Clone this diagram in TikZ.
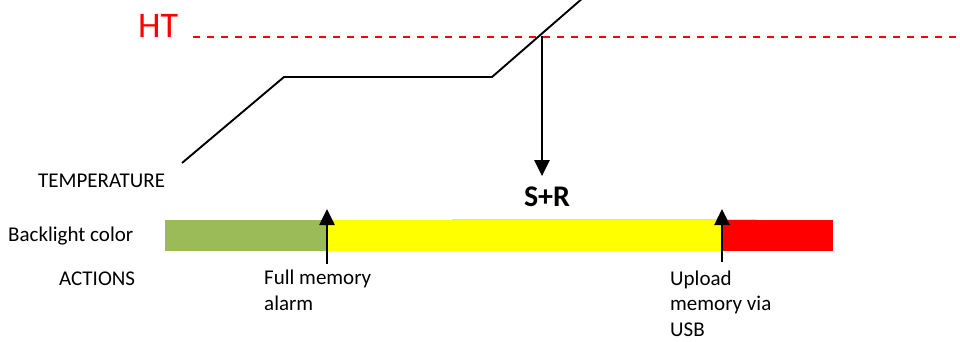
\documentclass[tikz,border=0pt]{standalone}
\usepackage{fontspec}
\setmainfont{Carlito}
\usetikzlibrary{arrows.meta, positioning}
\definecolor{htColor}{HTML}{FF0000}
\definecolor{okColor}{HTML}{9BBB59}
\definecolor{warnColor}{HTML}{FFFF00}
\definecolor{alarmColor}{HTML}{FF0000}

\begin{document}
\begin{tikzpicture}[
    x=1pt, y=-1pt,
    txt/.style={font=\fontsize{21}{25.5}\selectfont, inner sep=0pt, align=left},
    htLabel/.style={font=\fontsize{36}{40}\selectfont, text=htColor, inner sep=0pt},
    event/.style={font=\fontsize{30}{34}\selectfont\bfseries, inner sep=0pt},
    segment/.style={draw=none, inner sep=0pt, minimum height=31pt, anchor=west},
    curve/.style={line width=1.9pt},
    limit/.style={draw=htColor, dash pattern=on 7pt off 7pt, line width=1.5pt},
    trigger/.style={-{Triangle[width=15pt, length=16pt]}, line width=2.6pt}
]
\useasboundingbox (0,0) rectangle (960,341);

% high temperature limit
\node[htLabel, anchor=base west] (HT) at (138,37) {HT};
\coordinate (htStart) at (193,37);
\coordinate (htEnd) at (960,37);
\draw[limit] (htStart) -- (htEnd);

% temperature curve
\coordinate (tStart) at (182,163);
\coordinate (tRise) at (284,77);
\coordinate (tHold) at (492,77);
\coordinate (tEnd) at (584,-3);
\draw[curve] (tStart) -- (tRise) -- (tHold) -- (tEnd);
\node[txt, anchor=base west] (Temp) at (38,187) {TEMPERATURE};

% crossing HT
\coordinate (cross) at (542,36);
\node[event, anchor=base] (SR) at (547,206) {S+R};
\draw[trigger] (cross) -- ([yshift=10pt]SR.north -| cross);

% backlight bar
\node[txt, anchor=base west] (Back) at (8,241) {Backlight color};
\node[segment, fill=okColor, minimum width=162pt] (Green) at (165,235.5) {};
\node[segment, fill=warnColor, minimum width=396pt] (Yellow) at (327,235.5) {};
\node[segment, fill=alarmColor, minimum width=110pt] (Red) at (723,235.5) {};
\draw[gray!30, line width=0.8pt] (452,219) -- (757,219);

% actions (base = last line)
\node[txt, anchor=base west] (Actions) at (59,285) {ACTIONS};
\node[txt, anchor=base west] (FullMem) at (264,310) {Full memory\\alarm};
\node[txt, anchor=base west] (Upload) at (670,336) {Upload\\memory via\\USB};

\coordinate (fmFoot) at (327,264);
\coordinate (fmTip) at (327,209);
\coordinate (upFoot) at (722,262);
\coordinate (upTip) at (722,209);
\draw[trigger] (fmFoot) -- (fmTip);
\draw[trigger] (upFoot) -- (upTip);

\end{tikzpicture}
\end{document}
